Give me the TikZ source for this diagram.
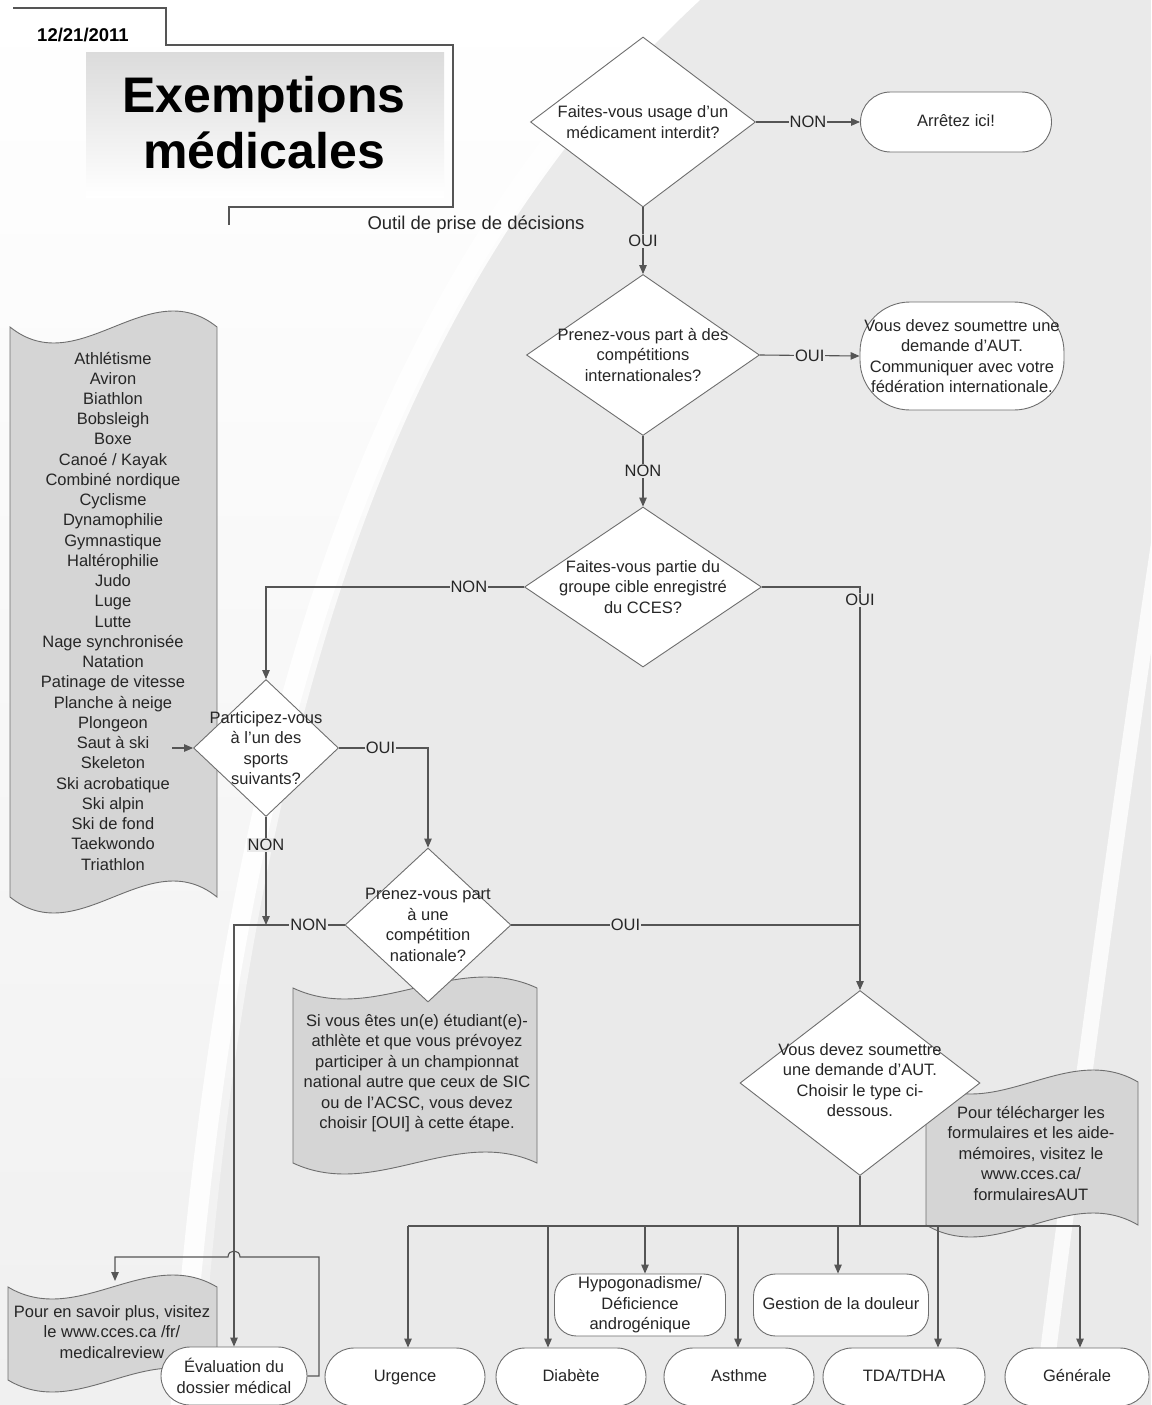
\documentclass[tikz,border=0pt]{standalone}
\usepackage{fontspec}
\setmainfont{Liberation Sans}
\usetikzlibrary{shapes.geometric,arrows.meta,calc}
\definecolor{bgc}{HTML}{EAEAEA}
\definecolor{bgl}{HTML}{F0F0F0}
\definecolor{linec}{HTML}{555555}
\definecolor{shapec}{HTML}{6E6E6E}
\definecolor{txt}{HTML}{262626}
\definecolor{tapec}{HTML}{D5D5D5}
\tikzset{
 base/.style={text=txt, font=\fontsize{16.5}{20.5}\selectfont},
 dia/.style={diamond, draw=shapec, fill=white, line width=0.9pt, inner sep=0pt},
 dtext/.style={base, align=center},
 term/.style={rectangle, draw=shapec, fill=white, line width=0.9pt, align=center, base, inner sep=0pt},
 oneline/.style={text height=12pt, text depth=3.5pt},
 ln/.style={draw=linec, line width=1.1pt},
 arr/.style={ln, -{Triangle[length=9pt,width=7.5pt]}},
 lab/.style={base, fill=bgc, inner sep=1pt},
 tapest/.style={draw=shapec, fill=tapec, line width=0.9pt},
 notetext/.style={base, align=center},
 hdr/.style={draw=linec, line width=1.4pt},
}
\newcommand\tapeshape[5]{%
 \path[tapest] (#1,#2) .. controls ({#1+(#3-#1)/3},{#2+3.46*#5}) and ({#1+2*(#3-#1)/3},{#2-3.46*#5}) .. (#3,#2)
  -- (#3,#4) .. controls ({#1+2*(#3-#1)/3},{#4-3.46*#5}) and ({#1+(#3-#1)/3},{#4+3.46*#5}) .. (#1,#4) -- cycle;}
\begin{document}
\begin{tikzpicture}[x=1pt,y=-1pt]
\useasboundingbox (0,0) rectangle (1151,1405);
% background
\fill[bgc] (0,0) rectangle (1151,1405);
\shade[top color=white, bottom color=bgl] (0,0) -- (700,0) .. controls (430,250) and (250,650) .. (200,1405) -- (0,1405) -- cycle;
\draw[white, line width=20pt, opacity=.9] (690,-10) .. controls (415,250) and (232,650) .. (180,1415);
\draw[white, line width=16pt, opacity=.8] (1170,470) .. controls (1120,800) and (1080,1100) .. (1040,1415);

% header
\draw[hdr] (13,8) -- (166,8) -- (166,45) -- (453,45) -- (453,207) -- (229,207) -- (229,225);
\shade[top color=gray!28, bottom color=white] (86,53) rectangle (444,197);
\node[anchor=base, text=black, font=\bfseries\fontsize{18.5}{22}\selectfont] (date) at (83,42) {12/21/2011};
\node[anchor=base, text=black, font=\bfseries\fontsize{50}{58}\selectfont] (t1) at (264,112) {Exemptions};
\node[anchor=base, text=black, font=\bfseries\fontsize{50}{58}\selectfont] (t2) at (264,168) {médicales};
\node[anchor=base, text=txt, font=\fontsize{18.5}{22}\selectfont] (outil) at (476,229) {Outil de prise de décisions};

% notes (tape shapes)
\tapeshape{10}{327}{217}{897}{16}
\node[notetext, font=\fontsize{16.5}{20.24}\selectfont] (sports) at (113,611) {Athlétisme\\Aviron\\Biathlon\\Bobsleigh\\Boxe\\Canoé / Kayak\\Combiné nordique\\Cyclisme\\Dynamophilie\\Gymnastique\\Haltérophilie\\Judo\\Luge\\Lutte\\Nage synchronisée\\Natation\\Patinage de vitesse\\Planche à neige\\Plongeon\\Saut à ski\\Skeleton\\Ski acrobatique\\Ski alpin\\Ski de fond\\Taekwondo\\Triathlon};
\tapeshape{293}{988}{537}{1163}{11}
\node[notetext] (natnote) at (417,1073) {Si vous êtes un(e) étudiant(e)-\\athlète et que vous prévoyez\\participer à un championnat\\national autre que ceux de SIC\\ou de l'ACSC, vous devez\\choisir [OUI] à cette étape.};
\tapeshape{926}{1082}{1138}{1225}{12}
\node[notetext] (formnote) at (1031,1153) {Pour télécharger les\\formulaires et les aide-\\mémoires, visitez le\\www.cces.ca/\\formulairesAUT};
\tapeshape{8}{1287}{217}{1380}{12}
\node[notetext] (infonote) at (112,1332) {Pour en savoir plus, visitez\\le www.cces.ca /fr/\\medicalreview};
\coordinate (infoin) at (115,1281);

% decisions
\node[dia, minimum width=225pt, minimum height=170pt] (d1) at (643,122) {};
\node[dtext] at (d1.center) {Faites-vous usage d'un\\médicament interdit?};
\node[dia, minimum width=233pt, minimum height=161pt] (d2) at (643,355) {};
\node[dtext] at (d2.center) {Prenez-vous part à des\\compétitions\\internationales?};
\node[dia, minimum width=237pt, minimum height=160pt] (d3) at (643,587) {};
\node[dtext] at (d3.center) {Faites-vous partie du\\groupe cible enregistré\\du CCES?};
\node[dia, minimum width=145pt, minimum height=137pt] (d4) at (266,748) {};
\node[dtext] at (d4.center) {Participez-vous\\à l'un des\\sports\\suivants?};
\node[dia, minimum width=166pt, minimum height=154pt] (d5) at (428,925) {};
\node[dtext] at (d5.center) {Prenez-vous part\\à une\\compétition\\nationale?};
\node[dia, minimum width=240pt, minimum height=185pt] (d6) at (860,1083) {};
\node[dtext] at (860,1080) {Vous devez soumettre\\une demande d'AUT.\\Choisir le type ci-\\dessous.};

% terminals
\node[term, oneline, minimum width=191pt, minimum height=60pt, rounded corners=30pt] (stop) at (956,122) {Arrêtez ici!};
\node[term, minimum width=204pt, minimum height=108pt, rounded corners=50pt] (aut) at (962,356) {Vous devez soumettre une\\demande d'AUT.\\Communiquer avec votre\\fédération internationale.};
\node[term, minimum width=146pt, minimum height=58pt, rounded corners=29pt] (eval) at (234,1376) {Évaluation du\\dossier médical};
\node[term, oneline, minimum width=160pt, minimum height=58pt, rounded corners=29pt] (urg) at (405,1377) {Urgence};
\node[term, oneline, minimum width=150pt, minimum height=58pt, rounded corners=29pt] (diab) at (571,1377) {Diabète};
\node[term, oneline, minimum width=150pt, minimum height=58pt, rounded corners=29pt] (asth) at (739,1377) {Asthme};
\node[term, oneline, minimum width=162pt, minimum height=58pt, rounded corners=29pt] (tda) at (904,1377) {TDA/TDHA};
\node[term, oneline, minimum width=144pt, minimum height=58pt, rounded corners=29pt] (gen) at (1077,1377) {Générale};
\node[term, minimum width=171pt, minimum height=62pt, rounded corners=22pt] (hypo) at (640,1305) {Hypogonadisme/\\Déficience\\androgénique};
\node[term, oneline, minimum width=175pt, minimum height=62pt, rounded corners=22pt] (gest) at (841,1305) {Gestion de la douleur};

% connectors
\draw[arr] (d1.east) -- node[lab]{NON} (stop.west);
\draw[arr] (d1.south) -- node[lab]{OUI} (d2.north);
\draw[arr] (d2.east) -- node[lab]{OUI} (aut.west);
\draw[arr] (d2.south) -- node[lab]{NON} (d3.north);
\draw[arr] (d3.west) -| node[lab,pos=0.107]{NON} (d4.north);
\draw[arr] (d3.east) -| node[lab,pos=0.516]{OUI} (d6.north);
\coordinate (sp) at (172,748);
\draw[arr] (sp) -- (d4.west);
\draw[arr] (d4.east) -| node[lab,pos=0.233]{OUI} (d5.north);
\draw[arr] (d4.south) -- node[lab,pos=0.26]{NON} (d4.south |- d5.west);
\draw[arr] (d5.west) -| node[lab,pos=0.162]{NON} (eval.north);
\draw[ln] (d5.east) -- node[lab,pos=0.327]{OUI} (d5.east -| d6.north);

% eval -> info note with line hop
\coordinate (ra) at (319,1257);
\coordinate (la) at (115,1257);
\coordinate (hc) at (eval.north |- ra);
\draw[arr] (eval.east) -| (ra) -- ($(hc)+(6,0)$) .. controls ($(hc)+(6,-8)$) and ($(hc)+(-6,-8)$) .. ($(hc)+(-6,0)$) -- (la) -- (infoin);

% bus
\coordinate (bus) at (860,1226);
\coordinate (bu) at (408,1226);
\coordinate (bd) at (548,1226);
\coordinate (bh) at (645,1226);
\coordinate (ba) at (738,1226);
\coordinate (bg) at (838,1226);
\coordinate (bt) at (938,1226);
\coordinate (bn) at (1080,1226);
\draw[ln] (d6.south) -- (bus);
\draw[ln] (bu) -- (bn);
\draw[arr] (bu) -- (bu |- urg.north);
\draw[arr] (bd) -- (bd |- diab.north);
\draw[arr] (bh) -- (bh |- hypo.north);
\draw[arr] (ba) -- (ba |- asth.north);
\draw[arr] (bg) -- (bg |- gest.north);
\draw[arr] (bt) -- (bt |- tda.north);
\draw[arr] (bn) -- (bn |- gen.north);
\end{tikzpicture}
\end{document}
